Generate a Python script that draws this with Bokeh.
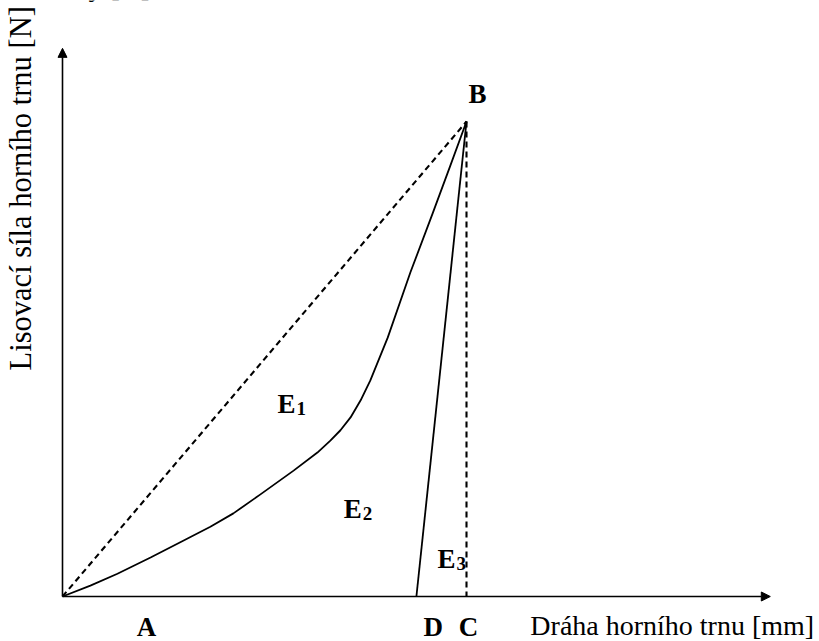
import math
from bokeh.plotting import figure
from bokeh.models import Range1d, Arrow, NormalHead
from bokeh.core.properties import value
from bokeh.embed import file_html
from bokeh.resources import INLINE

# ---- data (schematic, arbitrary units: C = 10 on x, B = 10 on y) ----
curve_x = [0.0, 0.69, 1.36, 2.18, 3.0, 3.66, 4.23, 4.9, 5.72, 6.31, 6.63, 6.88, 7.13, 7.38, 7.62, 8.05, 8.61, 9.16, 9.6, 10.0]
curve_y = [0.0, 0.23, 0.48, 0.82, 1.18, 1.47, 1.75, 2.15, 2.65, 3.03, 3.28, 3.5, 3.77, 4.13, 4.55, 5.45, 6.82, 8.06, 9.07, 10.0]

point_names = ["A", "B", "C", "D"]
point_x = [0.0, 10.0, 10.0, 8.76]
point_y = [0.0, 10.0, 0.0, 0.0]

energy_labels = ["E", "E", "E"]
energy_subs = ["1", "2", "3"]

x_title = "Dráha horního trnu [mm]"
y_title = "Lisovací síla horního trnu [N]"
top_fragment = "Síly [N]"

x_axis_end = 17.52
y_axis_end = 11.54

# ---- figure ----
sx = 40.4   # px per x unit
sy = 47.5   # px per y unit
ox, oy = 62, 596
W, H = 819, 641
dy = 0.2    # baseline correction for rendered text

p = figure(width=W, height=H, output_backend="svg", toolbar_location=None,
           x_axis_type=None, y_axis_type=None, min_border=0,
           x_range=Range1d(-ox / sx, (W - ox) / sx),
           y_range=Range1d((oy - H) / sy, oy / sy))
p.grid.visible = False
p.outline_line_color = None
p.background_fill_color = "white"
p.border_fill_color = "white"

A = point_names.index("A")
B = point_names.index("B")
C = point_names.index("C")
D = point_names.index("D")

# axes with arrows
p.add_layout(Arrow(end=NormalHead(size=9, fill_color="black", line_color="black", line_width=1),
                   x_start=point_x[A], y_start=point_y[A], x_end=x_axis_end, y_end=point_y[A],
                   line_color="black", line_width=1.6))
p.add_layout(Arrow(end=NormalHead(size=9, fill_color="black", line_color="black", line_width=1),
                   x_start=point_x[A], y_start=point_y[A], x_end=point_x[A], y_end=y_axis_end,
                   line_color="black", line_width=1.6))

# loading curve A-B
p.line(curve_x, curve_y, line_color="black", line_width=1.8, line_join="round")
# unloading line D-B
p.line([point_x[D], point_x[B]], [point_y[D], point_y[B]], line_color="black", line_width=1.8)
# dashed A-B
p.line([point_x[A], point_x[B]], [point_y[A], point_y[B]], line_color="black",
       line_width=2.1, line_dash="6 4")
# dashed B-C
p.line([point_x[B], point_x[C]], [point_y[B], point_y[C]], line_color="black",
       line_width=2.1, line_dash="6 4")

serif = value("Liberation Serif")

# point letters
lab_x = [point_x[A] + 2.08, point_x[D] + 0.42, point_x[C] + 0.05]
lab_y = [-0.84 + dy] * 3
p.text(x=lab_x, y=lab_y, text=["A", "D", "C"], text_font=serif, text_font_size="27px",
       text_font_style="bold", text_align="center", text_baseline="alphabetic", text_color="black")
p.text(x=[point_x[B] + 0.27], y=[point_y[B] + 0.38 + dy], text=["B"], text_font=serif,
       text_font_size="27px", text_font_style="bold", text_align="center",
       text_baseline="alphabetic", text_color="black")

# energy labels
ex = [5.32, 6.96, 9.28]
ey = [3.85 + dy, 1.64 + dy, 0.59 + dy]
p.text(x=ex, y=ey, text=energy_labels, text_font=serif, text_font_size="27px",
       text_font_style="bold", text_align="left", text_baseline="alphabetic", text_color="black")
p.text(x=[v + 0.47 for v in ex], y=[v - 0.09 for v in ey], text=energy_subs, text_font=serif,
       text_font_size="19px", text_font_style="bold", text_align="left",
       text_baseline="alphabetic", text_color="black")

# axis titles
p.text(x=[11.58], y=[-0.80 + dy], text=[x_title], text_font=serif, text_font_size="28px",
       text_align="left", text_baseline="alphabetic", text_color="black")
p.text(x=[-1.03], y=[4.76], text=[y_title], angle=math.pi / 2, text_font=serif,
       text_font_size="30.5px", text_align="left", text_baseline="alphabetic", text_color="black")

# clipped fragment at the top edge (only its descenders show, as in the source)
p.text(x=[(150 - ox) / sx], y=[(oy + 15) / sy], text=[top_fragment], text_font=serif,
       text_font_size="29px", text_align="right", text_baseline="alphabetic", text_color="black")

open("out.html", "w").write(file_html(p, INLINE))
